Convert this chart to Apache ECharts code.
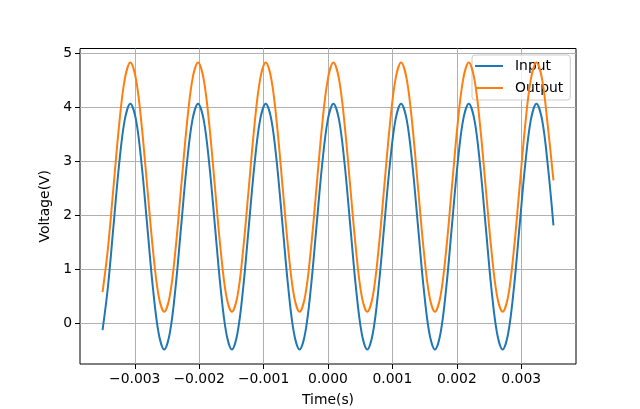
<!DOCTYPE html>
<html>
<head>
<meta charset="utf-8">
<script src="https://cdn.jsdelivr.net/npm/echarts@6/dist/echarts.min.js"></script>
<style>
html,body{margin:0;padding:0;background:#fff;}
#chart{width:640px;height:409px;}
</style>
</head>
<body>
<div id="chart"></div>
<script>
// Time samples (s)
var timeS = [
-0.0035, -0.0034182, -0.0033307, -0.0032431, -0.0031556, -0.0030680,
-0.0029804, -0.0028929, -0.0028053, -0.0027178, -0.0026302, -0.0025426, -0.0024551, -0.0023675, -0.0022800, -0.0021924, -0.0021048, -0.0020173,
-0.0019297, -0.0018422, -0.0017546, -0.0016670, -0.0015795, -0.0014919, -0.0014044, -0.0013168, -0.0012292, -0.0011417, -0.0010541, -0.0009666,
-0.0008790, -0.0007914, -0.0007039, -0.0006163, -0.0005288, -0.0004412, -0.0003536, -0.0002661, -0.0001785, -0.0000910, -0.0000034, 0.0000842,
0.0001717, 0.0002593, 0.0003468, 0.0004344, 0.0005220, 0.0006095, 0.0006971, 0.0007846, 0.0008722, 0.0009598, 0.0010473, 0.0011349,
0.0012224, 0.0013100, 0.0013976, 0.0014851, 0.0015727, 0.0016602, 0.0017478, 0.0018354, 0.0019229, 0.0020105, 0.0020980, 0.0021856,
0.0022732, 0.0023607, 0.0024483, 0.0025358, 0.0026234, 0.0027110, 0.0027985, 0.0028861, 0.0029736, 0.0030612, 0.0031488, 0.0032363,
0.0033239, 0.0034114, 0.0035
];
// Input voltage (V)
var inputV = [
-0.12, 0.66, 1.80, 2.94, 3.77, 4.07,
3.77, 2.94, 1.80, 0.66, -0.17, -0.48, -0.17, 0.66, 1.80, 2.94, 3.77, 4.07,
3.77, 2.94, 1.80, 0.66, -0.17, -0.48, -0.17, 0.66, 1.80, 2.94, 3.77, 4.07,
3.77, 2.94, 1.80, 0.66, -0.17, -0.48, -0.17, 0.66, 1.80, 2.94, 3.77, 4.07,
3.77, 2.94, 1.80, 0.66, -0.17, -0.48, -0.17, 0.66, 1.80, 2.94, 3.77, 4.07,
3.77, 2.94, 1.80, 0.66, -0.17, -0.48, -0.17, 0.66, 1.80, 2.94, 3.77, 4.07,
3.77, 2.94, 1.80, 0.66, -0.17, -0.48, -0.17, 0.66, 1.80, 2.94, 3.77, 4.07,
3.77, 2.94, 1.82
];
// Output voltage (V)
var outputV = [
0.585, 1.37, 2.52, 3.67, 4.52, 4.83,
4.52, 3.67, 2.52, 1.37, 0.52, 0.22, 0.52, 1.37, 2.52, 3.67, 4.52, 4.83,
4.52, 3.67, 2.52, 1.37, 0.52, 0.22, 0.52, 1.37, 2.52, 3.67, 4.52, 4.83,
4.52, 3.67, 2.52, 1.37, 0.52, 0.22, 0.52, 1.37, 2.52, 3.67, 4.52, 4.83,
4.52, 3.67, 2.52, 1.37, 0.52, 0.22, 0.52, 1.37, 2.52, 3.67, 4.52, 4.83,
4.52, 3.67, 2.52, 1.37, 0.52, 0.22, 0.52, 1.37, 2.52, 3.67, 4.52, 4.83,
4.52, 3.67, 2.52, 1.37, 0.52, 0.22, 0.52, 1.37, 2.52, 3.67, 4.52, 4.83,
4.52, 3.67, 2.65
];
var xTicks = [-0.003, -0.002, -0.001, 0.000, 0.001, 0.002, 0.003];
var yTicks = [0, 1, 2, 3, 4, 5];
var seriesNames = ['Input', 'Output'];

function zip(xs, ys) { return xs.map(function (x, i) { return [x, ys[i]]; }); }
var FONT = 'DejaVu Sans';
var FS = 13.9;

var chart = echarts.init(document.getElementById('chart'), null, {renderer: 'canvas'});
var gridStyle = {color: '#b0b0b0', width: 1, type: 'solid'};
var option = {
  animation: false,
  backgroundColor: '#fff',
  textStyle: {fontFamily: FONT},
  grid: {left: 80, right: 64, top: 48.5, bottom: 45, show: true, borderColor: '#000', borderWidth: 1, backgroundColor: 'transparent', outerBoundsMode: 'none'},
  legend: {
    data: seriesNames,
    orient: 'vertical',
    left: 472, top: 55,
    padding: [3, 7, 4, 3],
    itemWidth: 28, itemHeight: 2, itemGap: 6,
    icon: 'rect',
    backgroundColor: 'rgba(255,255,255,0.8)',
    borderColor: '#cccccc', borderWidth: 1, borderRadius: 3,
    textStyle: {fontFamily: FONT, fontSize: FS, color: '#000', padding: [0, 0, 0, 7], lineHeight: 16}
  },
  xAxis: {
    type: 'value', min: -0.00385, max: 0.00385,
    name: 'Time(s)', nameLocation: 'middle', nameGap: 29,
    nameTextStyle: {fontFamily: FONT, fontSize: FS, color: '#000'},
    axisLine: {show: false, onZero: false},
    axisTick: {show: true, inside: false, length: 5, customValues: xTicks, lineStyle: {color: '#000', width: 1}},
    axisLabel: {customValues: xTicks, margin: 8, fontFamily: FONT, fontSize: FS, color: '#000',
      formatter: function (v) { return v.toFixed(3).replace('-', '\u2212'); }},
    splitLine: {show: true, lineStyle: gridStyle}
  },
  yAxis: {
    type: 'value', min: -0.746, max: 5.091,
    name: 'Voltage(V)', nameLocation: 'middle', nameGap: 26, nameRotate: 90,
    nameTextStyle: {fontFamily: FONT, fontSize: FS, color: '#000'},
    axisLine: {show: false, onZero: false},
    axisTick: {show: true, inside: false, length: 5, customValues: yTicks, lineStyle: {color: '#000', width: 1}},
    axisLabel: {customValues: yTicks, margin: 8, fontFamily: FONT, fontSize: FS, color: '#000',
      formatter: function (v) { return String(v); }},
    splitLine: {show: true, lineStyle: gridStyle}
  },
  series: [
    {
      name: 'Input', type: 'line', data: zip(timeS, inputV), showSymbol: false, symbol: 'none', z: 3,
      smooth: 0.35,
      color: '#1f77b4', lineStyle: {width: 2, color: '#1f77b4'}
    },
    {
      name: 'Output', type: 'line', data: zip(timeS, outputV), showSymbol: false, symbol: 'none', z: 4,
      smooth: 0.35,
      color: '#ff7f0e', lineStyle: {width: 2, color: '#ff7f0e'}
    }
  ]
};
chart.setOption(option);
</script>
</body>
</html>
